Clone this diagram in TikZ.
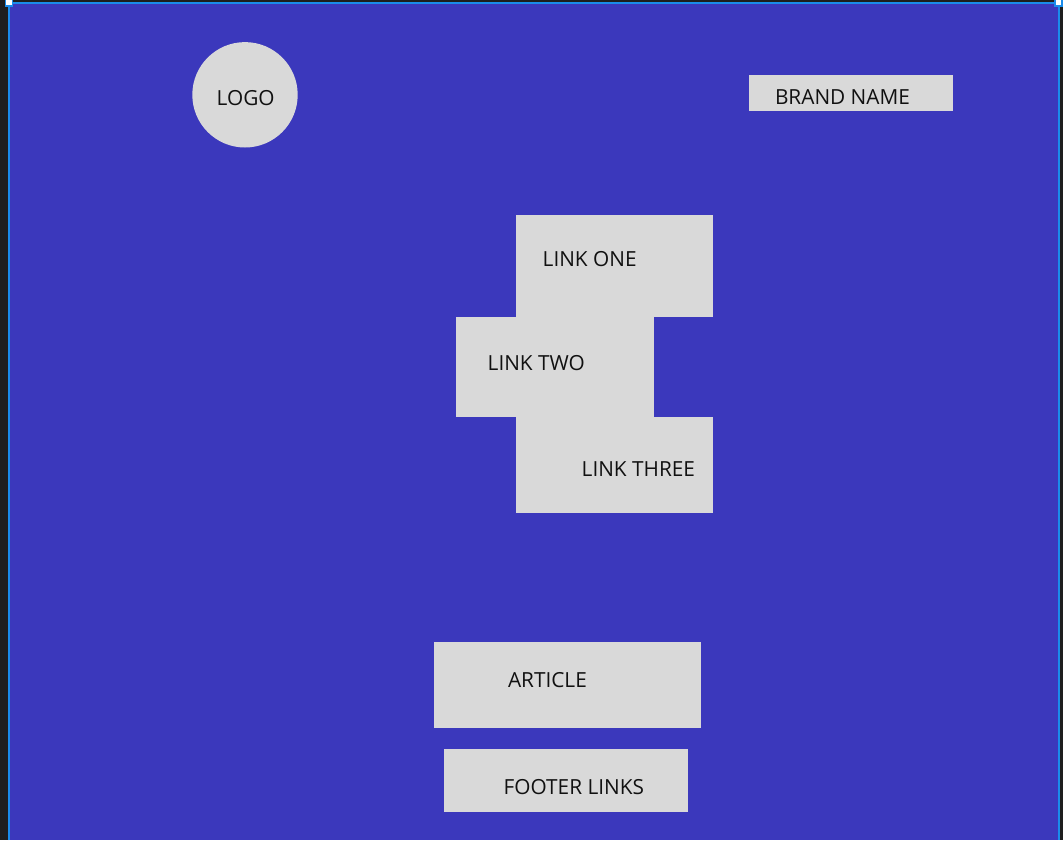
\documentclass[tikz,border=0pt]{standalone}
\usepackage{fontspec}
\setmainfont{Open Sans}
\definecolor{darkbg}{HTML}{1E1E1E}
\definecolor{frame}{HTML}{3B38BC}
\definecolor{sel}{HTML}{1A8CEB}
\definecolor{boxgray}{HTML}{D9D9D9}
\definecolor{ink}{HTML}{111111}
\tikzset{
  px/.style={x=0.75pt,y=-0.75pt},
  graybox/.style={fill=boxgray,draw=none,inner sep=0pt,outer sep=0pt},
  lbl/.style={anchor=base west,inner sep=0pt,outer sep=0pt,text=ink,font=\fontsize{15.6}{18}\selectfont},
  handle/.style={fill=white,draw=sel,line width=1.2pt}
}
\begin{document}
\begin{tikzpicture}[px]
\useasboundingbox (0,0) rectangle (1063,840);
\fill[darkbg] (0,0) rectangle (1063,840);
\fill[frame] (9,2.5) rectangle (1058.5,840);
\draw[sel,line width=1.5pt] (9,840) -- (9,2.5) -- (1058.5,2.5) -- (1058.5,840);
\draw[handle] (5.5,-1) rectangle (12.5,6);
\draw[handle] (1055,-1) rectangle (1062,6);

% logo
\node[graybox,circle,minimum size=105.4*0.75pt] (logo) at (245,94.8) {};
\node[lbl] (logot) at (216.7,105) {LOGO};

% brand
\node[graybox,minimum width=204.3*0.75pt,minimum height=35.4*0.75pt] (brand) at (851.15,93) {};
\node[lbl] (brandt) at (775,104.3) {BRAND NAME};

% links
\node[graybox,minimum width=196.7*0.75pt,minimum height=101.7*0.75pt] (l1) at (614.35,265.85) {};
\node[graybox,minimum width=198.3*0.75pt,minimum height=100.6*0.75pt] (l2) at (555.15,367) {};
\node[graybox,minimum width=196.7*0.75pt,minimum height=96*0.75pt] (l3) at (614.35,465.3) {};
\node[lbl] (l1t) at (542.7,266.7) {LINK ONE};
\node[lbl] (l2t) at (487.7,370.7) {LINK TWO};
\node[lbl] (l3t) at (581.7,476.7) {LINK THREE};

% article
\node[graybox,minimum width=267.2*0.75pt,minimum height=85.7*0.75pt] (art) at (567.1,684.85) {};
\node[lbl] (artt) at (508,687.7) {ARTICLE};

% footer
\node[graybox,minimum width=244.3*0.75pt,minimum height=62.7*0.75pt] (foot) at (565.85,780.35) {};
\node[lbl] (foott) at (503.7,794.7) {FOOTER LINKS};
\end{tikzpicture}
\end{document}
